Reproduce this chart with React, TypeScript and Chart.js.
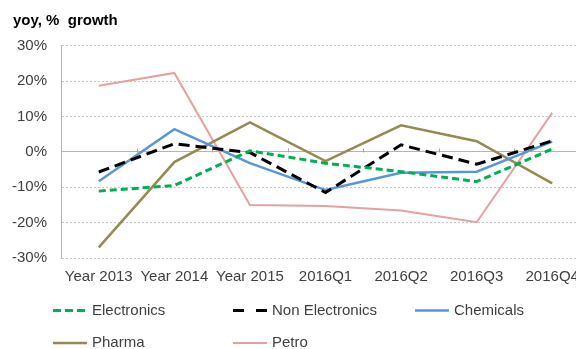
import React, { useEffect, useRef } from 'react';
import { Chart, registerables } from 'chart.js';

Chart.register(...registerables);

// Categories on the x axis
const categories = ['Year 2013', 'Year 2014', 'Year 2015', '2016Q1', '2016Q2', '2016Q3', '2016Q4'];

// Year-on-year growth, %
const electronics = [-11.1, -9.5, 0.3, -3.2, -5.6, -8.4, 0.8];
const nonElectronics = [-5.7, 2.3, -0.2, -11.5, 2.0, -3.5, 3.1];
const chemicals = [-8.3, 6.4, -3.2, -10.8, -5.9, -5.6, 2.9];
const pharma = [-27.0, -2.9, 8.3, -2.6, 7.5, 3.0, -8.9];
const petro = [18.7, 22.3, -15.0, -15.3, -16.6, -19.9, 11.0];

// Y axis ticks, %
const yTicks = [-30, -20, -10, 0, 10, 20, 30];

const FONT = "'Liberation Sans', Arial, sans-serif";
const TEXT = '#404040';

type Series = {
  label: string;
  data: number[];
  color: string;
  width: number;
  dash: number[];
  legendDash: number[];
};

const series: Series[] = [
  { label: 'Electronics', data: electronics, color: '#00B050', width: 3, dash: [7, 4], legendDash: [8, 4] },
  { label: 'Non Electronics', data: nonElectronics, color: '#000000', width: 3, dash: [11, 6], legendDash: [11, 12] },
  { label: 'Chemicals', data: chemicals, color: '#5B95D9', width: 2.5, dash: [], legendDash: [] },
  { label: 'Pharma', data: pharma, color: '#948A54', width: 2.5, dash: [], legendDash: [] },
  { label: 'Petro', data: petro, color: '#E6A0A0', width: 2, dash: [], legendDash: [] },
];

// Legend grid: three columns, two rows
const legendCols = [53, 233, 415];
const legendRows = [310.5, 343];

export default function App() {
  const ref = useRef<HTMLCanvasElement>(null);

  useEffect(() => {
    const canvas = ref.current;
    if (!canvas) return;

    const chrome = {
      id: 'chrome',
      beforeDatasetsDraw(chart: any) {
        // small tick marks on the zero line between categories
        const { ctx, scales } = chart;
        const x = scales.x;
        const y0 = Math.round(scales.y.getPixelForValue(0)) + 0.5;
        ctx.save();
        ctx.strokeStyle = '#a6a6a6';
        ctx.lineWidth = 1;
        for (let i = 1; i < categories.length; i++) {
          const xb = Math.round((x.getPixelForValue(i - 1) + x.getPixelForValue(i)) / 2) + 0.5;
          ctx.beginPath();
          ctx.moveTo(xb, y0);
          ctx.lineTo(xb, y0 - 4);
          ctx.stroke();
        }
        ctx.restore();
      },
      afterDraw(chart: any) {
        const { ctx } = chart;
        ctx.save();
        // axis title
        ctx.fillStyle = '#000';
        ctx.font = `bold 15px ${FONT}`;
        ctx.textBaseline = 'alphabetic';
        ctx.textAlign = 'left';
        ctx.fillText('yoy, %  growth', 13, 25);

        // legend
        ctx.font = `15px ${FONT}`;
        ctx.textBaseline = 'middle';
        series.forEach((s, i) => {
          const x = legendCols[i % 3];
          const y = legendRows[Math.floor(i / 3)];
          ctx.strokeStyle = s.color;
          ctx.lineWidth = s.width;
          ctx.setLineDash(s.legendDash);
          ctx.beginPath();
          ctx.moveTo(x, y);
          ctx.lineTo(x + 34, y);
          ctx.stroke();
          ctx.setLineDash([]);
          ctx.fillStyle = TEXT;
          ctx.fillText(s.label, x + 39, y);
        });
        ctx.restore();
      },
    };

    const chart = new Chart(canvas, {
      type: 'line',
      data: {
        labels: categories,
        datasets: series.map((s) => ({
          label: s.label,
          data: s.data,
          borderColor: s.color,
          backgroundColor: s.color,
          borderWidth: s.width,
          borderDash: s.dash,
          pointRadius: 0,
          pointHoverRadius: 0,
          fill: false,
          tension: 0,
        })),
      },
      options: {
        animation: false,
        responsive: false,
        events: [],
        layout: { padding: { top: 45.7, left: 0, right: 50, bottom: 82 } },
        plugins: {
          legend: { display: false },
          tooltip: { enabled: false },
          title: { display: false },
        },
        scales: {
          x: {
            offset: true,
            grid: { display: false, drawTicks: false, offset: true },
            border: { display: false },
            ticks: {
              padding: 10,
              maxRotation: 0,
              autoSkip: false,
              color: TEXT,
              font: { family: FONT, size: 15 },
            },
            afterFit: (s: any) => {
              s.height = 30;
            },
          },
          y: {
            min: yTicks[0],
            max: yTicks[yTicks.length - 1],
            afterBuildTicks: (s: any) => {
              s.ticks = yTicks.map((v) => ({ value: v }));
            },
            ticks: {
              padding: 14,
              color: TEXT,
              font: { family: FONT, size: 15 },
              callback: (v: any) => `${v}%`,
            },
            grid: {
              drawTicks: false,
              color: (c: any) => (c.tick && c.tick.value === 0 ? '#b4b4b4' : '#c8c8c8'),
              lineWidth: 1,
            },
            border: {
              display: true,
              color: '#b0b0b0',
              width: 1,
              dash: (c: any) => (c.tick && c.tick.value === 0 ? [] : [2, 2]),
            },
            afterFit: (s: any) => {
              s.width = 61;
            },
          },
        },
      },
      plugins: [chrome],
    } as any);

    return () => chart.destroy();
  }, []);

  return (
    <div
      style={{
        position: 'fixed',
        left: 0,
        top: 0,
        width: 576,
        height: 349,
        overflow: 'hidden',
        background: '#fff',
      }}
    >
      <canvas ref={ref} width={640} height={370} style={{ display: 'block' }} />
    </div>
  );
}
